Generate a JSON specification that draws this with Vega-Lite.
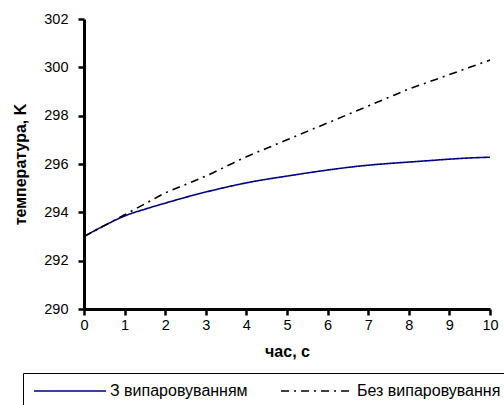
{
  "$schema": "https://vega.github.io/schema/vega-lite/v6.json",
  "width": 406,
  "height": 290,
  "autosize": {"type": "none"},
  "padding": {"left": 84, "top": 19, "right": 14, "bottom": 96},
  "background": "white",
  "config": {
    "view": {"stroke": null},
    "font": "Liberation Sans",
    "axis": {
      "grid": false,
      "domainColor": "black",
      "domainWidth": 3,
      "tickColor": "black",
      "tickWidth": 2.5,
      "tickSize": 6,
      "labelFont": "Liberation Sans",
      "labelFontSize": 14.5,
      "labelColor": "black",
      "titleFont": "Liberation Sans",
      "titleFontSize": 16,
      "titleFontWeight": "bold",
      "titleColor": "black"
    }
  },
  "data": {
    "values": [
      {"t": 0, "temp": 293.0, "series": "З випаровуванням"},
      {"t": 0.5, "temp": 293.45, "series": "З випаровуванням"},
      {"t": 1, "temp": 293.85, "series": "З випаровуванням"},
      {"t": 1.5, "temp": 294.13, "series": "З випаровуванням"},
      {"t": 2, "temp": 294.38, "series": "З випаровуванням"},
      {"t": 2.5, "temp": 294.62, "series": "З випаровуванням"},
      {"t": 3, "temp": 294.84, "series": "З випаровуванням"},
      {"t": 3.5, "temp": 295.04, "series": "З випаровуванням"},
      {"t": 4, "temp": 295.22, "series": "З випаровуванням"},
      {"t": 4.5, "temp": 295.37, "series": "З випаровуванням"},
      {"t": 5, "temp": 295.5, "series": "З випаровуванням"},
      {"t": 5.5, "temp": 295.63, "series": "З випаровуванням"},
      {"t": 6, "temp": 295.75, "series": "З випаровуванням"},
      {"t": 6.5, "temp": 295.86, "series": "З випаровуванням"},
      {"t": 7, "temp": 295.95, "series": "З випаровуванням"},
      {"t": 7.5, "temp": 296.02, "series": "З випаровуванням"},
      {"t": 8, "temp": 296.08, "series": "З випаровуванням"},
      {"t": 8.5, "temp": 296.14, "series": "З випаровуванням"},
      {"t": 9, "temp": 296.2, "series": "З випаровуванням"},
      {"t": 9.5, "temp": 296.25, "series": "З випаровуванням"},
      {"t": 10, "temp": 296.28, "series": "З випаровуванням"},
      {"t": 0, "temp": 293.0, "series": "Без випаровування"},
      {"t": 0.5, "temp": 293.45, "series": "Без випаровування"},
      {"t": 1, "temp": 293.9, "series": "Без випаровування"},
      {"t": 1.5, "temp": 294.35, "series": "Без випаровування"},
      {"t": 2, "temp": 294.8, "series": "Без випаровування"},
      {"t": 2.5, "temp": 295.15, "series": "Без випаровування"},
      {"t": 3, "temp": 295.5, "series": "Без випаровування"},
      {"t": 3.5, "temp": 295.9, "series": "Без випаровування"},
      {"t": 4, "temp": 296.3, "series": "Без випаровування"},
      {"t": 4.5, "temp": 296.65, "series": "Без випаровування"},
      {"t": 5, "temp": 297.0, "series": "Без випаровування"},
      {"t": 5.5, "temp": 297.35, "series": "Без випаровування"},
      {"t": 6, "temp": 297.7, "series": "Без випаровування"},
      {"t": 6.5, "temp": 298.05, "series": "Без випаровування"},
      {"t": 7, "temp": 298.4, "series": "Без випаровування"},
      {"t": 7.5, "temp": 298.75, "series": "Без випаровування"},
      {"t": 8, "temp": 299.1, "series": "Без випаровування"},
      {"t": 8.5, "temp": 299.4, "series": "Без випаровування"},
      {"t": 9, "temp": 299.7, "series": "Без випаровування"},
      {"t": 9.5, "temp": 300.0, "series": "Без випаровування"},
      {"t": 10, "temp": 300.3, "series": "Без випаровування"}
    ]
  },
  "mark": {"type": "line", "strokeWidth": 1.6, "interpolate": "monotone"},
  "encoding": {
    "x": {
      "field": "t", "type": "quantitative",
      "scale": {"domain": [0, 10], "nice": false},
      "axis": {"title": "час, с", "values": [0,1,2,3,4,5,6,7,8,9,10], "labelPadding": 3, "titlePadding": 12, "labelFlush": false}
    },
    "y": {
      "field": "temp", "type": "quantitative",
      "scale": {"domain": [290, 302], "zero": false, "nice": false},
      "axis": {"title": "температура, K", "values": [290,292,294,296,298,300,302], "labelPadding": 10, "titlePadding": 15, "labelFlush": false}
    },
    "color": {
      "field": "series", "type": "nominal",
      "scale": {"domain": ["З випаровуванням", "Без випаровування"], "range": ["#000080", "#000000"]},
      "legend": {
        "title": null,
        "orient": "none",
        "legendX": -61,
        "legendY": 354,
        "direction": "horizontal",
        "columns": 2,
        "symbolType": "M-1,0H9.3",
        "symbolSize": 196,
        "symbolStrokeWidth": 1.5,
        "symbolFillColor": "transparent",
        "labelFontSize": 16,
        "labelColor": "black",
        "labelLimit": 300,
        "labelOffset": 61,
        "columnPadding": 30,
        "padding": 10,
        "strokeColor": "black",
        "fillColor": "white",
        "encode": {
          "symbols": {
            "update": {
              "strokeDash": {"signal": "datum.value === 'Без випаровування' ? [14, 5, 3, 5] : [1, 0]"}
            }
          }
        }
      }
    },
    "strokeDash": {
      "field": "series", "type": "nominal",
      "scale": {"domain": ["З випаровуванням", "Без випаровування"], "range": [[1, 0], [8, 5, 2, 5]]},
      "legend": null
    }
  }
}
